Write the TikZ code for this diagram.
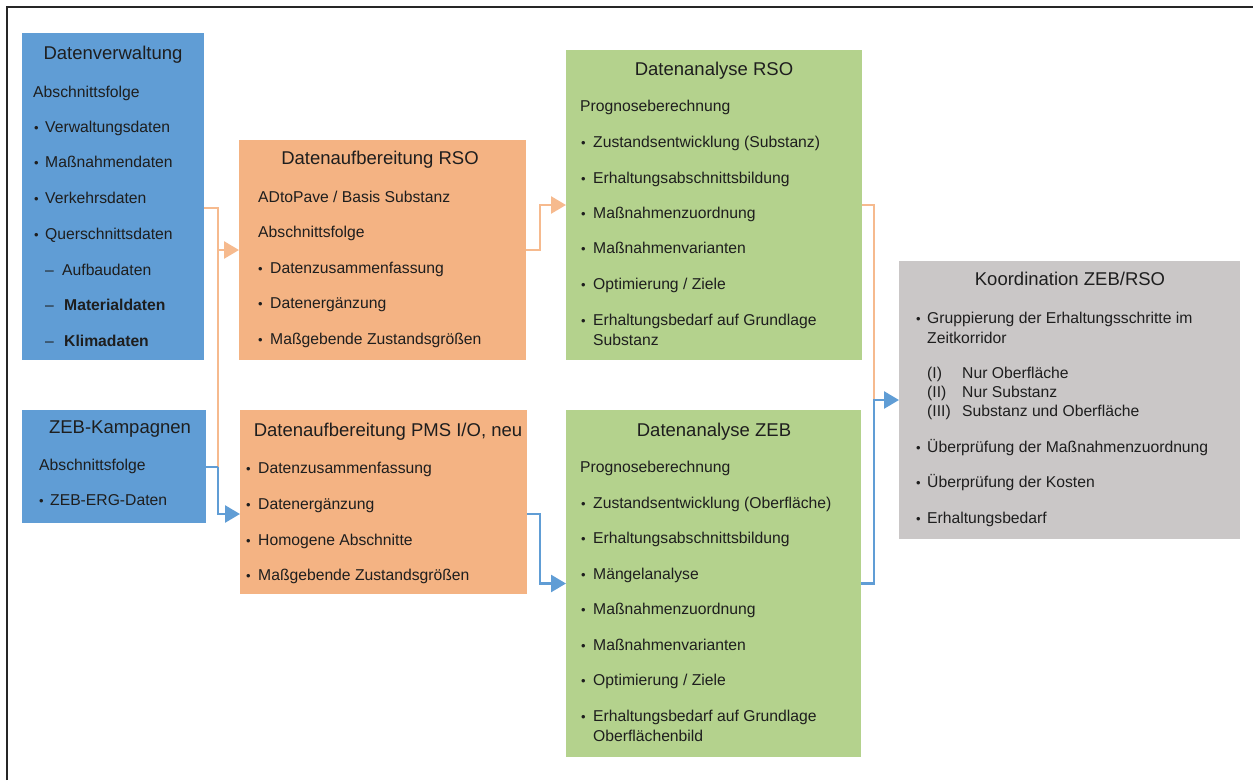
\documentclass[tikz,border=0pt]{standalone}
\usepackage{fontspec}
\setmainfont{Liberation Sans}
\usetikzlibrary{arrows.meta}
\definecolor{blueC}{RGB}{96,157,213}
\definecolor{orC}{RGB}{244,179,131}
\definecolor{orL}{RGB}{246,186,142}
\definecolor{grC}{RGB}{180,210,141}
\definecolor{gyC}{RGB}{202,199,199}
\definecolor{txtC}{RGB}{30,30,30}
\tikzset{
  bx/.style={draw=none, inner sep=0, outer sep=0},
  tx/.style={anchor=base west, inner sep=0, font=\fontsize{15.7}{18}\selectfont, text=txtC},
  bul/.style={anchor=base west, inner sep=0, font=\fontsize{13}{15}\selectfont, text=txtC},
  ttl/.style={anchor=base, inner sep=0, font=\fontsize{18.5}{22}\selectfont, text=txtC},
  orline/.style={draw=orL, line width=2.6pt},
  blline/.style={draw=blueC, line width=2.6pt},
  tip/.style={-{Triangle[length=15pt,width=17pt]}},
}
\begin{document}
\begin{tikzpicture}[x=1pt,y=-1pt]
\useasboundingbox (0,0) rectangle (1253,780);
% frame
\draw[line width=2pt, black!85] (7,780) -- (7,7) -- (1253,7);

% boxes
\node[bx, fill=blueC, minimum width=182pt, minimum height=327pt] (dv) at (113,196.5) {};
\node[bx, fill=blueC, minimum width=184pt, minimum height=113pt] (zeb) at (114,466.5) {};
\node[bx, fill=orC, minimum width=287pt, minimum height=220pt] (rso) at (382.5,250) {};
\node[bx, fill=orC, minimum width=287pt, minimum height=184pt] (pms) at (383.5,502) {};
\node[bx, fill=grC, minimum width=296pt, minimum height=310pt] (gr) at (714,205) {};
\node[bx, fill=grC, minimum width=295pt, minimum height=347pt] (gz) at (713.5,583.5) {};
\node[bx, fill=gyC, minimum width=341pt, minimum height=278pt] (ko) at (1069.5,400) {};

% Datenverwaltung
\node[ttl] (dvt) at (113,59.5) {Datenverwaltung};
\node[tx] (dv1) at (33,97) {Abschnittsfolge};
\node[bul] at (34,132) {•}; \node[tx] (dv2) at (45,132) {Verwaltungsdaten};
\node[bul] at (34,167) {•}; \node[tx] (dv3) at (45,167) {Maßnahmendaten};
\node[bul] at (34,203) {•}; \node[tx] (dv4) at (45,203) {Verkehrsdaten};
\node[bul] at (34,239) {•}; \node[tx] (dv5) at (45,239) {Querschnittsdaten};
\node[tx] at (45,275) {–}; \node[tx] (dv6) at (62,275) {Aufbaudaten};
\node[tx] at (45,310) {–}; \node[tx] (dv7) at (64,310) {\bfseries Materialdaten};
\node[tx] at (45,346) {–}; \node[tx] (dv8) at (64,346) {\bfseries Klimadaten};

% ZEB-Kampagnen
\node[ttl] (zebt) at (120,433.5) {ZEB-Kampagnen};
\node[tx] (zeb1) at (39,470) {Abschnittsfolge};
\node[bul] at (39,505) {•}; \node[tx] (zeb2) at (50,505) {ZEB-ERG-Daten};

% Datenaufbereitung RSO
\node[ttl] (rsot) at (380,164.5) {Datenaufbereitung RSO};
\node[tx] (rso1) at (258,202) {ADtoPave / Basis Substanz};
\node[tx] (rso2) at (258,237) {Abschnittsfolge};
\node[bul] at (258,273) {•}; \node[tx] (rso3) at (270,273) {Datenzusammenfassung};
\node[bul] at (258,308) {•}; \node[tx] (rso4) at (270,308) {Datenergänzung};
\node[bul] at (258,344) {•}; \node[tx] (rso5) at (270,344) {Maßgebende Zustandsgrößen};

% Datenaufbereitung PMS
\node[ttl] (pmst) at (388,436.5) {Datenaufbereitung PMS I/O, neu};
\node[bul] at (246,473) {•}; \node[tx] (pms1) at (258,473) {Datenzusammenfassung};
\node[bul] at (246,509) {•}; \node[tx] (pms2) at (258,509) {Datenergänzung};
\node[bul] at (246,545) {•}; \node[tx] (pms3) at (258,545) {Homogene Abschnitte};
\node[bul] at (246,580) {•}; \node[tx] (pms4) at (258,580) {Maßgebende Zustandsgrößen};

% Datenanalyse RSO
\node[ttl] (grt) at (714,75.5) {Datenanalyse RSO};
\node[tx] (gr0) at (580,111) {Prognoseberechnung};
\node[bul] at (581,147) {•}; \node[tx] (gr1) at (593,147) {Zustandsentwicklung (Substanz)};
\node[bul] at (581,183) {•}; \node[tx] (gr2) at (593,183) {Erhaltungsabschnittsbildung};
\node[bul] at (581,218) {•}; \node[tx] (gr3) at (593,218) {Maßnahmenzuordnung};
\node[bul] at (581,253) {•}; \node[tx] (gr4) at (593,253) {Maßnahmenvarianten};
\node[bul] at (581,289) {•}; \node[tx] (gr5) at (593,289) {Optimierung / Ziele};
\node[bul] at (581,325) {•}; \node[tx] (gr6) at (593,325) {Erhaltungsbedarf auf Grundlage};
\node[tx] (gr7) at (593,345) {Substanz};

% Datenanalyse ZEB
\node[ttl] (gzt) at (714,436.5) {Datenanalyse ZEB};
\node[tx] (gz0) at (580,472) {Prognoseberechnung};
\node[bul] at (581,508) {•}; \node[tx] (gz1) at (593,508) {Zustandsentwicklung (Oberfläche)};
\node[bul] at (581,543) {•}; \node[tx] (gz2) at (593,543) {Erhaltungsabschnittsbildung};
\node[bul] at (581,579) {•}; \node[tx] (gz3) at (593,579) {Mängelanalyse};
\node[bul] at (581,614) {•}; \node[tx] (gz4) at (593,614) {Maßnahmenzuordnung};
\node[bul] at (581,650) {•}; \node[tx] (gz5) at (593,650) {Maßnahmenvarianten};
\node[bul] at (581,685) {•}; \node[tx] (gz6) at (593,685) {Optimierung / Ziele};
\node[bul] at (581,721) {•}; \node[tx] (gz7) at (593,721) {Erhaltungsbedarf auf Grundlage};
\node[tx] (gz8) at (593,741) {Oberflächenbild};

% Koordination
\node[ttl] (kot) at (1070,285.5) {Koordination ZEB/RSO};
\node[bul] at (916,323) {•}; \node[tx] (ko1) at (927,323) {Gruppierung der Erhaltungsschritte im};
\node[tx] (ko1b) at (927,343) {Zeitkorridor};
\node[tx] at (927,378) {(I)}; \node[tx] (ko2) at (962,378) {Nur Oberfläche};
\node[tx] at (927,397) {(II)}; \node[tx] (ko3) at (962,397) {Nur Substanz};
\node[tx] at (927,416) {(III)}; \node[tx] (ko4) at (962,416) {Substanz und Oberfläche};
\node[bul] at (916,452) {•}; \node[tx] (ko5) at (927,452) {Überprüfung der Maßnahmenzuordnung};
\node[bul] at (916,487) {•}; \node[tx] (ko6) at (927,487) {Überprüfung der Kosten};
\node[bul] at (916,523) {•}; \node[tx] (ko7) at (927,523) {Erhaltungsbedarf};

% connectors
\coordinate (j1) at (218,467);
\coordinate (j2) at (540,0);
\coordinate (j3) at (874,0);
\draw[orline] ([yshift=-5pt]dv.east |- dv4.base) -| (j1);
\draw[orline, tip] (j1 |- rso.west) -- (rso.west);
\draw[blline] (zeb.east |- j1) -- (j1);
\draw[blline, tip] (j1) |- ([yshift=-5pt]pms.west |- pms2.base);
\draw[orline, tip] (rso.east) -| (j2 |- gr.west) -- (gr.west);
\draw[blline, tip] ([yshift=-5pt]pms.east |- pms2.base) -| (j2 |- gz.west) -- (gz.west);
\draw[orline] (gr.east) -| (j3 |- ko.west);
\draw[blline, tip] (gz.east) -| (j3 |- ko.west) -- (ko.west);
\end{tikzpicture}
\end{document}
